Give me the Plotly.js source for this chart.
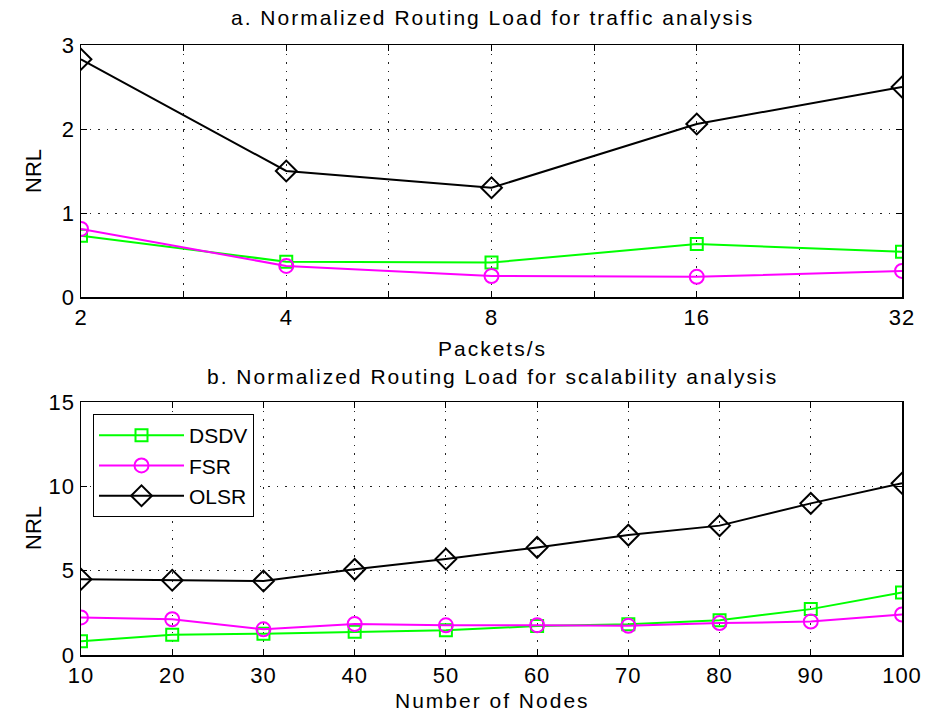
<!DOCTYPE html>
<html>
<head>
<meta charset="utf-8">
<script src="https://cdn.plot.ly/plotly-3.0.1.min.js"></script>
<style>html,body{margin:0;padding:0;background:#fff}#chart{width:925px;height:717px}</style>
</head>
<body>
<div id="chart"></div>
<script>
// Top panel: traffic analysis
const packets = [2, 4, 8, 16, 32];
const packetLabels = ['2', '4', '8', '16', '32'];
const dsdvTraffic = [0.73, 0.42, 0.41, 0.63, 0.54];
const fsrTraffic  = [0.81, 0.37, 0.25, 0.24, 0.31];
const olsrTraffic = [2.83, 1.50, 1.30, 2.06, 2.50];

// Bottom panel: scalability analysis
const nodes = [10, 20, 30, 40, 50, 60, 70, 80, 90, 100];
const dsdvScale = [0.81, 1.20, 1.26, 1.38, 1.46, 1.72, 1.83, 2.06, 2.72, 3.71];
const fsrScale  = [2.23, 2.12, 1.52, 1.84, 1.76, 1.77, 1.73, 1.89, 1.98, 2.40];
const olsrScale = [4.49, 4.43, 4.39, 5.08, 5.69, 6.38, 7.11, 7.67, 8.99, 10.18];

const FONT = 'Liberation Sans, Arial, sans-serif';
const GREEN = '#00ff00', MAGENTA = '#ff00ff', BLACK = '#000000';

// top axis ticks: labelled at data positions plus unlabelled midpoints (geometric)
const topTickVals = [], topTickText = [];
packets.forEach((p, i) => {
  topTickVals.push(p); topTickText.push(packetLabels[i]);
  if (i < packets.length - 1) { topTickVals.push(Math.sqrt(p * packets[i + 1])); topTickText.push(''); }
});

function series(x, y, name, color, symbol, size, xa, ya, showlegend) {
  return {
    x: x, y: y, name: name, type: 'scatter', mode: 'lines+markers',
    xaxis: xa, yaxis: ya, showlegend: showlegend,
    line: {color: color, width: 2},
    marker: {symbol: symbol, size: size, color: color, line: {color: color, width: 2}}
  };
}

const data = [
  series(packets, dsdvTraffic, 'DSDV', GREEN, 'square-open', 12, 'x', 'y', false),
  series(packets, fsrTraffic, 'FSR', MAGENTA, 'circle-open', 14, 'x', 'y', false),
  series(packets, olsrTraffic, 'OLSR', BLACK, 'diamond-open', 16, 'x', 'y', false),
  series(nodes, dsdvScale, 'DSDV', GREEN, 'square-open', 12, 'x2', 'y2', true),
  series(nodes, fsrScale, 'FSR', MAGENTA, 'circle-open', 14, 'x2', 'y2', true),
  series(nodes, olsrScale, 'OLSR', BLACK, 'diamond-open', 16, 'x2', 'y2', true)
];

const axCommon = {
  showline: true, linecolor: '#000', linewidth: 1.5, mirror: 'ticks',
  ticks: 'inside', ticklen: 6, tickcolor: '#000', tickwidth: 1,
  showgrid: true, gridcolor: '#222', gridwidth: 1, griddash: '1.5px,7px',
  zeroline: false, tickfont: {family: FONT, size: 22, color: '#000'},
  fixedrange: true
};

const xd = [81 / 925, 902 / 925];
const py = v => (717 - v) / 717;
const layout = {
  width: 925, height: 717,
  margin: {l: 0, r: 0, t: 0, b: 0},
  paper_bgcolor: '#fff', plot_bgcolor: '#fff',
  font: {family: FONT, color: '#000'},
  xaxis: Object.assign({}, axCommon, {
    domain: xd, anchor: 'y', type: 'log',
    range: [Math.log10(2), Math.log10(32)],
    tickmode: 'array', tickvals: topTickVals, ticktext: topTickText
  }),
  yaxis: Object.assign({}, axCommon, {
    domain: [py(297), py(45)], anchor: 'x',
    range: [0, 3], tickvals: [0, 1, 2, 3]
  }),
  xaxis2: Object.assign({}, axCommon, {
    domain: xd, anchor: 'y2', range: [10, 100], tickvals: nodes
  }),
  yaxis2: Object.assign({}, axCommon, {
    domain: [py(655), py(402)], anchor: 'x2',
    range: [0, 15], tickvals: [0, 5, 10, 15]
  }),
  legend: {
    x: 93 / 925, y: py(414), xanchor: 'left', yanchor: 'top',
    bordercolor: '#000', borderwidth: 1, bgcolor: '#fff',
    font: {family: FONT, size: 21, color: '#000'},
    tracegroupgap: 0, itemwidth: 85
  },
  annotations: [
    {text: 'a. Normalized Routing Load for traffic analysis', xref: 'paper', yref: 'paper',
     x: 0.532, y: py(17), xanchor: 'center', yanchor: 'middle', showarrow: false, font: {size: 21}},
    {text: 'Packets/s', xref: 'paper', yref: 'paper',
     x: 0.532, y: py(348), xanchor: 'center', yanchor: 'middle', showarrow: false, font: {size: 21}},
    {text: 'b. Normalized Routing Load for scalability analysis', xref: 'paper', yref: 'paper',
     x: 0.532, y: py(376), xanchor: 'center', yanchor: 'middle', showarrow: false, font: {size: 21}},
    {text: 'Number of Nodes', xref: 'paper', yref: 'paper',
     x: 0.532, y: py(700), xanchor: 'center', yanchor: 'middle', showarrow: false, font: {size: 21}},
    {text: 'NRL', xref: 'paper', yref: 'paper', textangle: -90,
     x: 33 / 925, y: py(171), xanchor: 'center', yanchor: 'middle', showarrow: false, font: {size: 22}},
    {text: 'NRL', xref: 'paper', yref: 'paper', textangle: -90,
     x: 33 / 925, y: py(528), xanchor: 'center', yanchor: 'middle', showarrow: false, font: {size: 22}}
  ]
};

Plotly.newPlot('chart', data, layout, {displayModeBar: false, staticPlot: true}).then(() => {
  const texts = document.querySelectorAll('#chart .annotation-text');
  texts.forEach((t, i) => { if (i < 4) t.style.letterSpacing = '2px'; });
  document.querySelectorAll('#chart .xtick text, #chart .x2tick text, #chart .ytick text, #chart .y2tick text')
    .forEach(t => { t.style.letterSpacing = '1px'; });
});
</script>
</body>
</html>
